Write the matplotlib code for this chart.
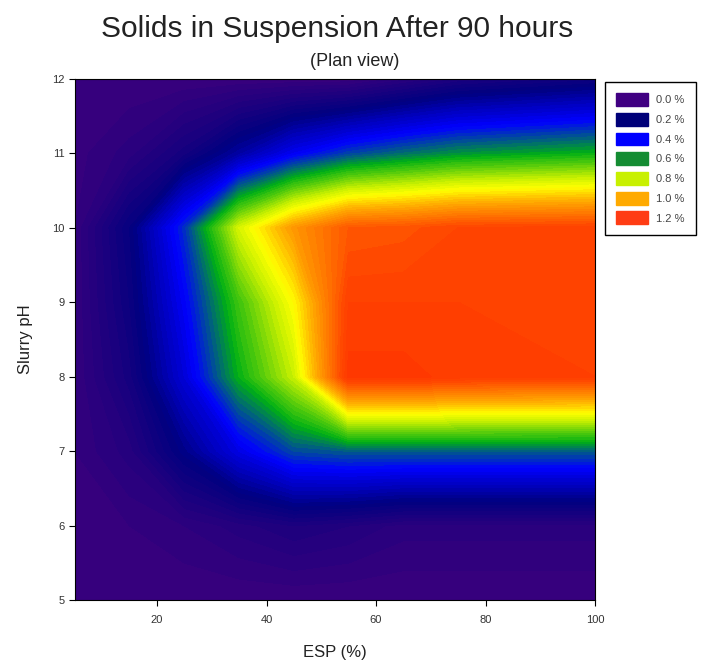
import numpy as np
import matplotlib.pyplot as plt
from matplotlib.colors import LinearSegmentedColormap
from matplotlib.patches import Patch

plt.rcParams['font.family'] = ['Liberation Sans', 'DejaVu Sans']

# === Data (suspended solids, %) ===
esp = [5, 15, 25, 35, 45, 55, 65, 75, 100]
ph = [5, 6, 7, 8, 9, 10, 11, 12]

solids_ph5 = [0.00, 0.00, 0.00, 0.00, 0.00, 0.00, 0.00, 0.00, 0.00]
solids_ph6 = [0.00, 0.02, 0.04, 0.07, 0.10, 0.08, 0.05, 0.05, 0.05]
solids_ph7 = [0.02, 0.07, 0.21, 0.36, 0.48, 0.50, 0.50, 0.50, 0.50]
solids_ph8 = [0.02, 0.13, 0.34, 0.60, 0.80, 1.25, 1.25, 1.23, 1.22]
solids_ph9 = [0.02, 0.16, 0.39, 0.66, 0.88, 1.22, 1.22, 1.22, 1.21]
solids_ph10 = [0.02, 0.18, 0.45, 0.82, 1.03, 1.16, 1.17, 1.20, 1.21]
solids_ph11 = [0.01, 0.05, 0.13, 0.25, 0.38, 0.47, 0.52, 0.56, 0.60]
solids_ph12 = [0.00, 0.00, 0.00, 0.00, 0.00, 0.00, 0.05, 0.10, 0.15]

legend_labels = ['0.0 %', '0.2 %', '0.4 %', '0.6 %', '0.8 %', '1.0 %', '1.2 %']
legend_colors = ['#400082', '#000078', '#0000ff', '#148c32', '#c8f000', '#ffaa00', '#ff3c14']

x_ticks = [20, 40, 60, 80, 100]
y_ticks = [5, 6, 7, 8, 9, 10, 11, 12]

# === Colour scale ===
nodes = [(0.0, '#37007d'), (0.2 / 1.3, '#000080'), (0.4 / 1.3, '#0000ff'),
         (0.6 / 1.3, '#00b014'), (0.8 / 1.3, '#c8f000'), (0.88 / 1.3, '#ffff00'),
         (1.0 / 1.3, '#ffa500'), (1.2 / 1.3, '#ff4600'), (1.0, '#ff2d00')]
cmap = LinearSegmentedColormap.from_list('solids', nodes)

Z = np.array([solids_ph5, solids_ph6, solids_ph7, solids_ph8,
              solids_ph9, solids_ph10, solids_ph11, solids_ph12])
levels = np.arange(0, 1.3001, 0.02)

fig = plt.figure(figsize=(7.09, 6.66), dpi=100)
ax = fig.add_axes([75 / 709, 1 - 600 / 666, 520 / 709, 521 / 666])

cs = ax.contourf(esp, ph, Z, levels=levels, cmap=cmap, vmin=0, vmax=1.3)
cs.set_edgecolor('face')
cs.set_linewidth(0.4)

ax.set_xlim(5, 100)
ax.set_ylim(5, 12)
ax.set_xticks(x_ticks)
ax.set_yticks(y_ticks)
ax.tick_params(axis='both', direction='out', length=4, width=0.8,
               labelsize=8, labelcolor='#333333')
ax.tick_params(axis='x', pad=7)
for sp in ax.spines.values():
    sp.set_linewidth(0.8)

ax.set_xlabel('ESP (%)', fontsize=12, color='#222222', labelpad=14)
ax.set_ylabel('Slurry pH', fontsize=12, color='#222222', labelpad=14)

fig.text(337 / 709, 1 - 37 / 666, 'Solids in Suspension After 90 hours',
         ha='center', va='baseline', fontsize=21.5, color='#222222')
fig.text(355 / 709, 1 - 66 / 666, '(Plan view)',
         ha='center', va='baseline', fontsize=13, color='#222222')

handles = [Patch(facecolor=c, edgecolor=c) for c in legend_colors]
leg = fig.legend(handles, legend_labels, loc='upper left',
                 bbox_to_anchor=(605 / 709, 1 - 82 / 666), bbox_transform=fig.transFigure,
                 borderaxespad=0, fontsize=8, handlelength=2.9, handleheight=1.4,
                 labelspacing=0.62, handletextpad=0.7, borderpad=1.0,
                 fancybox=False, framealpha=1, edgecolor='black')
leg.get_frame().set_linewidth(1.0)
for t in leg.get_texts():
    t.set_color('#444444')

fig.savefig('out.png', dpi=100)
